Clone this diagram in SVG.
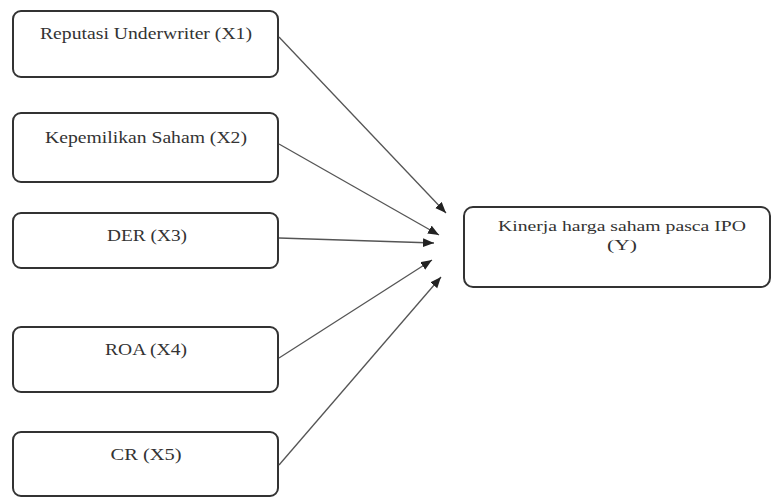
<svg xmlns="http://www.w3.org/2000/svg" width="772" height="498" viewBox="0 0 772 498">
<style>
.box{fill:#fff;stroke:#333;stroke-width:2}
.lbl{font-family:"Liberation Serif","Times New Roman",serif;font-size:17px;fill:#333;text-anchor:middle}
.sm{font-size:15px}
.conn{stroke:#555;stroke-width:1.3;fill:none;marker-end:url(#ah)}
</style>
<defs>
<marker id="ah" markerUnits="userSpaceOnUse" markerWidth="12" markerHeight="10" refX="11" refY="4.5" orient="auto">
<path d="M0,0 L11,4.5 L0,9 Z" fill="#222"/>
</marker>
</defs>
<rect width="772" height="498" fill="#fff"/>
<g id="x1"><rect class="box" x="13" y="11" width="265" height="66" rx="8"/><text class="lbl" x="146" y="39" textLength="212" lengthAdjust="spacingAndGlyphs">Reputasi Underwriter (X1)</text></g>
<g id="x2"><rect class="box" x="13" y="113" width="265" height="69" rx="8"/><text class="lbl" x="146" y="143" textLength="202" lengthAdjust="spacingAndGlyphs">Kepemilikan Saham (X2)</text></g>
<g id="x3"><rect class="box" x="13" y="213" width="265" height="55" rx="8"/><text class="lbl" x="147" y="241" textLength="80" lengthAdjust="spacingAndGlyphs">DER (X3)</text></g>
<g id="x4"><rect class="box" x="13" y="327" width="265" height="65" rx="8"/><text class="lbl" x="146" y="355" textLength="82" lengthAdjust="spacingAndGlyphs">ROA (X4)</text></g>
<g id="x5"><rect class="box" x="13" y="432" width="265" height="64" rx="8"/><text class="lbl" x="146" y="460" textLength="71" lengthAdjust="spacingAndGlyphs">CR (X5)</text></g>
<g id="y"><rect class="box" x="464" y="207" width="306" height="80" rx="9"/><text class="lbl sm" x="622" y="231" textLength="248" lengthAdjust="spacingAndGlyphs">Kinerja harga saham pasca IPO</text><text class="lbl sm" x="622" y="250" textLength="30" lengthAdjust="spacingAndGlyphs">(Y)</text></g>
<g id="connectors">
<line class="conn" x1="279" y1="37" x2="446" y2="213"/>
<line class="conn" x1="279" y1="144" x2="439" y2="235"/>
<line class="conn" x1="279" y1="238" x2="434" y2="243"/>
<line class="conn" x1="279" y1="358" x2="432" y2="260"/>
<line class="conn" x1="279" y1="465" x2="441" y2="277"/>
</g>
</svg>
